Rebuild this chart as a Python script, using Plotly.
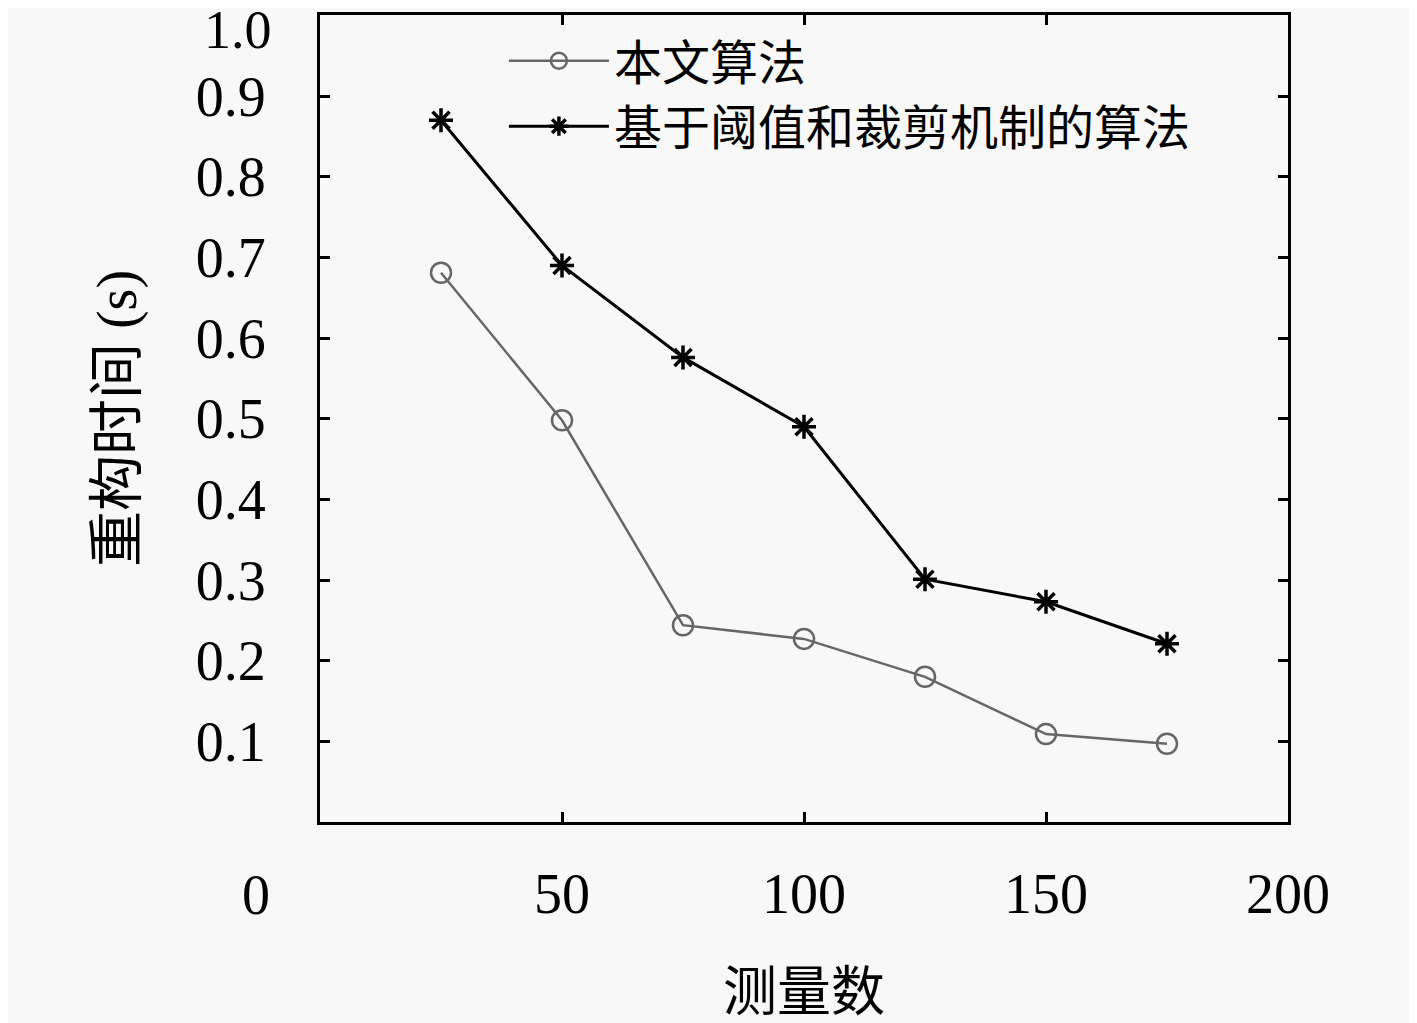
import plotly.graph_objects as go

# measurement counts and reconstruction times (s)
measurements = [25, 50, 75, 100, 125, 150, 175]
time_ours = [0.681, 0.498, 0.244, 0.227, 0.180, 0.109, 0.097]
time_threshold = [0.870, 0.690, 0.576, 0.490, 0.301, 0.273, 0.221]

x_ticks = [50, 100, 150, 200]
y_ticks = [0.1, 0.2, 0.3, 0.4, 0.5, 0.6, 0.7, 0.8, 0.9, 1.0]
# top label is drawn separately (it is nudged below the corner in the original)
y_labels = ['%.1f' % v for v in y_ticks[:-1]] + ['']

FONT = 'Liberation Serif, Noto Sans CJK SC, serif'
BG = '#f8f8f8'

fig = go.Figure()

fig.add_trace(go.Scatter(
    x=measurements, y=time_ours,
    mode='lines+markers',
    name='本文算法',
    line=dict(color='#666666', width=2.5),
    marker=dict(symbol='circle-open', size=20, color='#666666', line=dict(width=2.5)),
))

fig.add_trace(go.Scatter(
    x=measurements, y=time_threshold,
    mode='lines+markers',
    name='基于阈值和裁剪机制的算法',
    line=dict(color='#000000', width=3),
    marker=dict(symbol='asterisk-open', size=20, color='#000000', line=dict(width=3.5)),
))

axis_common = dict(
    showline=True, linecolor='black', linewidth=3, mirror='ticks',
    ticks='inside', ticklen=10, tickwidth=2.5, tickcolor='black',
    showgrid=False, zeroline=False, automargin=False,
    tickfont=dict(family=FONT, size=56, color='black'),
)

# page body adds an 8px offset, so the figure is sized/margined to compensate
fig.update_layout(
    width=1409, height=1015,
    margin=dict(l=312, r=129, t=7, b=201),
    paper_bgcolor=BG, plot_bgcolor=BG,
    font=dict(family=FONT, color='black'),
    xaxis=dict(
        range=[0, 200], tickvals=x_ticks, ticklabelstandoff=21,
        title=dict(text='测量数', font=dict(family=FONT, size=54), standoff=52),
        **axis_common,
    ),
    yaxis=dict(
        range=[0, 1.0005], tickvals=y_ticks, ticktext=y_labels, ticklabelstandoff=40,
        title=dict(text='重构时间 (s)', font=dict(family=FONT, size=56), standoff=42),
        **axis_common,
    ),
    legend=dict(
        x=0.19, y=0.99, xanchor='left', yanchor='top',
        bgcolor='rgba(0,0,0,0)', borderwidth=0,
        font=dict(family=FONT, size=48, color='black'),
        itemwidth=100,
    ),
    showlegend=True,
)

# the lone "0" label sits left of the corner in the original
fig.add_annotation(
    x=0, y=0, xref='x', yref='y', text='0', showarrow=False,
    xshift=-64, yshift=-73, font=dict(family=FONT, size=56, color='black'),
)
fig.add_annotation(
    x=0, y=y_ticks[-1], xref='paper', yref='y', text='%.1f' % y_ticks[-1],
    showarrow=False, xanchor='right', yanchor='middle',
    xshift=-46, yshift=-15, font=dict(family=FONT, size=54, color='black'),
)

fig.write_html('out.html')
